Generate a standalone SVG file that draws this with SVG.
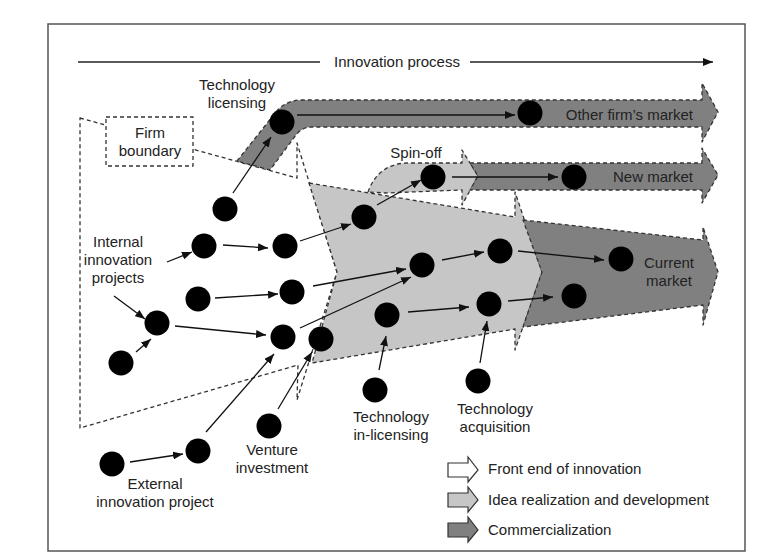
<svg xmlns="http://www.w3.org/2000/svg" width="768" height="559" viewBox="0 0 768 559">
<defs>
<marker id="ah" markerUnits="userSpaceOnUse" markerWidth="11" markerHeight="8" refX="10" refY="4" orient="auto">
<path d="M0,0 L10,4 L0,8 Z" fill="#111"/>
</marker>
<style>
.t{font-family:"Liberation Sans",Arial,sans-serif;font-size:15px;fill:#222}
.m{text-anchor:middle}
.e{text-anchor:end}
.d{stroke:#333;stroke-width:1.3;stroke-dasharray:4 3;stroke-linejoin:round}
.w{fill:#fff}
.lg{fill:#c6c6c6}
.dg{fill:#808080}
.n{fill:#000}
.c{stroke:#111;stroke-width:1.3;fill:none;marker-end:url(#ah)}
.ls{stroke:#333;stroke-width:1.2}
</style>
</defs>
<rect x="0" y="0" width="768" height="559" fill="#fff"/>
<rect x="48" y="24" width="697" height="527" fill="none" stroke="#555" stroke-width="1.5"/>

<g id="stages">
<path id="front-end" class="d w" d="M80,118 L297,178 L297,143 L337,272 L297,400 L298,365 L80,428 Z"/>
<path id="idea-realization" class="d lg" d="M309,183 L515,217 L515,192 L542,272 L515,350 L515,329 L312,363 L337,272 Z"/>
<path id="current-market-arrow" class="d dg" d="M523,220 L703,240 L703,227 L718,272 L703,325 L703,305 L523,327 L542,272 Z"/>
<path id="spin-off-arrow" class="d lg" d="M368,192 C375,172 390,163 408,163 L462,163 L462,150 L478,176 L462,205 L462,190 L385,193 Z"/>
<path id="new-market-arrow" class="d dg" d="M470,163 L702,163 L702,148 L718,175 L702,203 L702,190 L470,190 L478,176 Z"/>
<path id="other-market-arrow" class="d dg" d="M237,161 L272,117 C280,106 288,100 302,100 L702,100 L702,83 L718,112 L702,142 L702,127 L312,127 C305,127 300,130 296,135 L270,170 Z"/>
<rect id="firm-boundary-box" class="d w" x="106" y="117" width="87" height="49"/>
</g>

<g id="process-axis">
<line x1="78" y1="62" x2="320" y2="62" stroke="#222" stroke-width="1.5"/>
<line x1="470" y1="62" x2="713" y2="62" stroke="#222" stroke-width="1.5" marker-end="url(#ah)"/>
</g>

<g id="connectors">
<line class="c" x1="233" y1="193" x2="271" y2="137"/>
<line class="c" x1="297" y1="115" x2="515" y2="115"/>
<line class="c" x1="377" y1="205" x2="421" y2="180"/>
<line class="c" x1="452" y1="177" x2="558" y2="177"/>
<line class="c" x1="167" y1="262" x2="192" y2="252"/>
<line class="c" x1="223" y1="245" x2="268" y2="248"/>
<line class="c" x1="300" y1="241" x2="351" y2="224"/>
<line class="c" x1="215" y1="298" x2="278" y2="294"/>
<line class="c" x1="313" y1="286" x2="406" y2="269"/>
<line class="c" x1="114" y1="296" x2="145" y2="319"/>
<line class="c" x1="136" y1="352" x2="151" y2="339"/>
<line class="c" x1="175" y1="326" x2="266" y2="335"/>
<line class="c" x1="300" y1="328" x2="411" y2="277"/>
<line class="c" x1="442" y1="260" x2="484" y2="252"/>
<line class="c" x1="518" y1="251" x2="604" y2="260"/>
<line class="c" x1="408" y1="312" x2="469" y2="307"/>
<line class="c" x1="508" y1="301" x2="553" y2="297"/>
<line class="c" x1="480" y1="363" x2="487" y2="321"/>
<line class="c" x1="379" y1="370" x2="386" y2="336"/>
<line class="c" x1="130" y1="462" x2="183" y2="454"/>
<line class="c" x1="206" y1="432" x2="274" y2="354"/>
<line class="c" x1="278" y1="409" x2="312" y2="352"/>
</g>

<g id="node-tl"><circle class="n" cx="282" cy="122" r="12.5"/></g>
<g id="node-of"><circle class="n" cx="530" cy="113" r="12.5"/></g>
<g id="node-so"><circle class="n" cx="433" cy="177" r="12.5"/></g>
<g id="node-nm"><circle class="n" cx="574" cy="177" r="12.5"/></g>
<g id="node-i1"><circle class="n" cx="225" cy="209" r="12.5"/></g>
<g id="node-i2"><circle class="n" cx="204" cy="246" r="12.5"/></g>
<g id="node-i3"><circle class="n" cx="285" cy="246" r="12.5"/></g>
<g id="node-i4"><circle class="n" cx="364" cy="217" r="12.5"/></g>
<g id="node-i5"><circle class="n" cx="198" cy="299" r="12.5"/></g>
<g id="node-i6"><circle class="n" cx="292" cy="292" r="12.5"/></g>
<g id="node-i7"><circle class="n" cx="157" cy="323" r="12.5"/></g>
<g id="node-i8"><circle class="n" cx="283" cy="337" r="12.5"/></g>
<g id="node-i9"><circle class="n" cx="321" cy="339" r="12.5"/></g>
<g id="node-i10"><circle class="n" cx="121" cy="363" r="12.5"/></g>
<g id="node-d1"><circle class="n" cx="422" cy="265" r="12.5"/></g>
<g id="node-d2"><circle class="n" cx="500" cy="251" r="12.5"/></g>
<g id="node-d3"><circle class="n" cx="387" cy="315" r="12.5"/></g>
<g id="node-d4"><circle class="n" cx="489" cy="304" r="12.5"/></g>
<g id="node-cm1"><circle class="n" cx="621" cy="259" r="12.5"/></g>
<g id="node-cm2"><circle class="n" cx="574" cy="296" r="12.5"/></g>
<g id="node-ta"><circle class="n" cx="478" cy="381" r="12.5"/></g>
<g id="node-til"><circle class="n" cx="375" cy="390" r="12.5"/></g>
<g id="node-ext1"><circle class="n" cx="112" cy="464" r="12.5"/></g>
<g id="node-ext2"><circle class="n" cx="198" cy="451" r="12.5"/></g>
<g id="node-vi"><circle class="n" cx="269" cy="426" r="12.5"/></g>

<g id="labels">
<text class="t m" x="397" y="67">Innovation process</text>
<text class="t m" x="237" y="90">Technology</text>
<text class="t m" x="237" y="108">licensing</text>
<text class="t m" x="150" y="138">Firm</text>
<text class="t m" x="150" y="156">boundary</text>
<text class="t e" x="693" y="120">Other firm’s market</text>
<text class="t m" x="416" y="158">Spin-off</text>
<text class="t e" x="693" y="182">New market</text>
<text class="t m" x="118" y="247">Internal</text>
<text class="t m" x="118" y="265">innovation</text>
<text class="t m" x="118" y="283">projects</text>
<text class="t m" x="669" y="268">Current</text>
<text class="t m" x="669" y="286">market</text>
<text class="t m" x="391" y="422">Technology</text>
<text class="t m" x="391" y="440">in-licensing</text>
<text class="t m" x="495" y="414">Technology</text>
<text class="t m" x="495" y="432">acquisition</text>
<text class="t m" x="272" y="455">Venture</text>
<text class="t m" x="272" y="473">investment</text>
<text class="t m" x="155" y="489">External</text>
<text class="t m" x="155" y="507">innovation project</text>
</g>

<g id="legend">
<path class="ls w" d="M448,463 L468,463 L468,457 L478,470 L468,482 L468,477 L448,477 Z"/>
<path class="ls lg" d="M448,493 L468,493 L468,487 L478,500 L468,512 L468,507 L448,507 Z"/>
<path class="ls dg" d="M448,523 L468,523 L468,517 L478,530 L468,542 L468,537 L448,537 Z"/>
<text class="t" x="488" y="474">Front end of innovation</text>
<text class="t" x="488" y="505">Idea realization and development</text>
<text class="t" x="488" y="535">Commercialization</text>
</g>
</svg>
